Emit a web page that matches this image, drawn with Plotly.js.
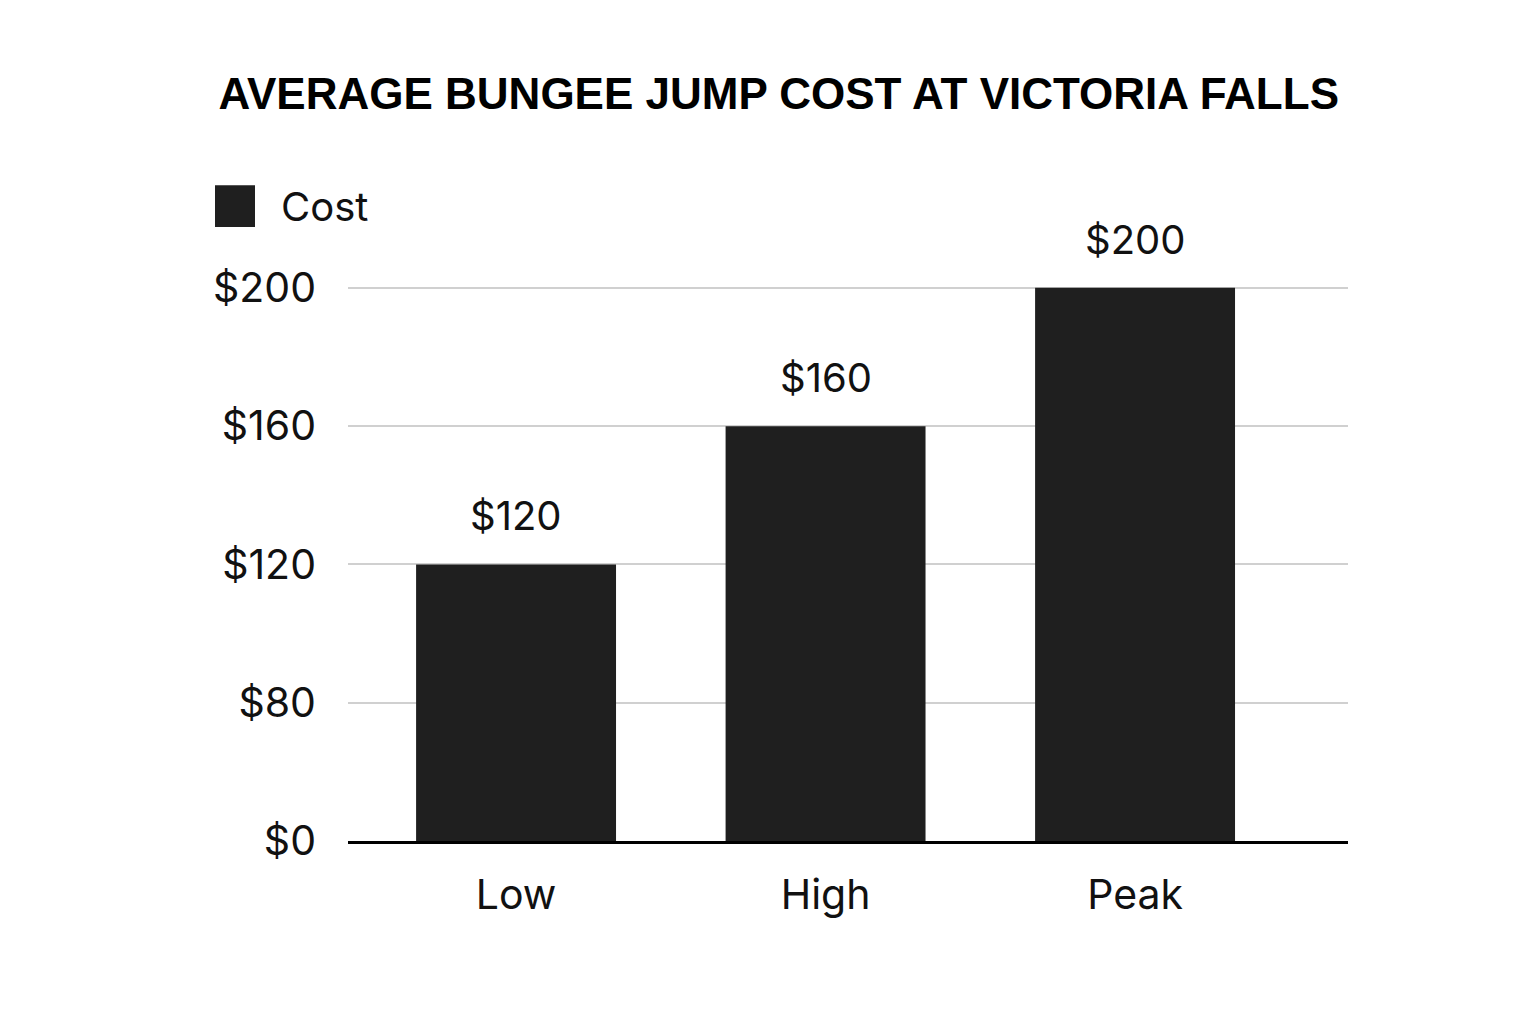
<!DOCTYPE html>
<html>
<head>
<meta charset="utf-8">
<script src="https://cdn.plot.ly/plotly-3.0.1.min.js"></script>
<style>
  html, body { margin: 0; padding: 0; background: #fff; }
  #chart { width: 1536px; height: 1024px; }
</style>
</head>
<body>
<div id="chart"></div>
<script>
const seasons = ['Low', 'High', 'Peak'];
const costs = [120, 160, 200];
const tickValues = [40, 80, 120, 160, 200];
const tickLabels = ['$0', '$80', '$120', '$160', '$200'];

const barColor = '#1f1f1f';
const font = 'Inter, "Liberation Sans", Arial, sans-serif';

const barTrace = {
    type: 'bar',
    x: seasons,
    y: costs,
    name: 'Cost',
    marker: { color: barColor, line: { width: 0 } },
    hoverinfo: 'x+y',
    showlegend: false,
};

// value labels above each bar
const valueLabels = seasons.map((s, i) => ({
    x: s,
    y: costs[i],
    xref: 'x',
    yref: 'y',
    text: '$' + costs[i],
    showarrow: false,
    yanchor: 'bottom',
    yshift: 22,
    font: { family: font, size: 40, color: '#111' },
}));

const layout = {
    width: 1536,
    height: 1024,
    paper_bgcolor: '#ffffff',
    plot_bgcolor: '#ffffff',
    margin: { l: 348, r: 188, t: 236, b: 183 },
    title: {
        text: '<b>AVERAGE BUNGEE JUMP COST AT VICTORIA FALLS</b>',
        x: 0.507,
        xanchor: 'center',
        y: 0.909,
        yanchor: 'middle',
        font: { family: '"Liberation Sans", Arial, sans-serif', size: 44, color: '#000' },
    },
    bargap: 0.354,
    xaxis: {
        type: 'category',
        range: [-0.543, 2.688],
        showline: true,
        linecolor: '#000',
        linewidth: 3,
        showgrid: false,
        ticks: '',
        ticklabelstandoff: 16,
        tickfont: { family: font, size: 41, color: '#111' },
        fixedrange: true,
    },
    yaxis: {
        range: [40, 215],
        tickvals: tickValues,
        ticktext: tickLabels,
        showgrid: true,
        gridcolor: '#d0d0d0',
        gridwidth: 2,
        zeroline: false,
        showline: false,
        ticks: '',
        ticklabelstandoff: 31,
        tickfont: { family: font, size: 41, color: '#111' },
        fixedrange: true,
    },
    shapes: [
        {
            type: 'rect',
            xref: 'paper', yref: 'paper',
            x0: -0.133, x1: -0.093,
            y0: 1.015, y1: 1.084,
            fillcolor: barColor,
            line: { width: 0 },
        },
    ],
    annotations: valueLabels.concat([
        {
            xref: 'paper', yref: 'paper',
            x: -0.069, y: 1.049,
            xanchor: 'left', yanchor: 'middle',
            text: 'Cost',
            showarrow: false,
            font: { family: font, size: 40, color: '#111' },
        },
    ]),
    showlegend: false,
};

Plotly.newPlot('chart', [barTrace], layout, { displayModeBar: false, staticPlot: true });
</script>
</body>
</html>
